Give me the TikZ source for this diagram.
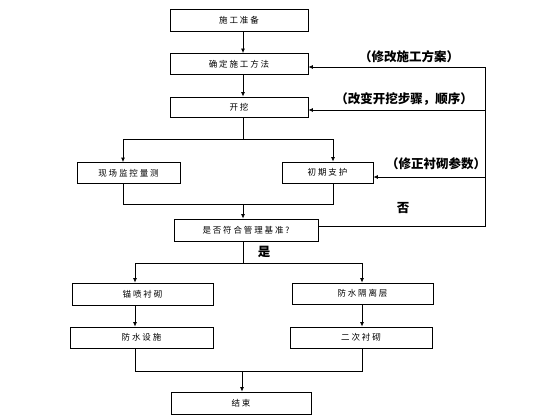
\documentclass[tikz,border=0pt]{standalone}
\usepackage{fontspec}
\setmainfont{Noto Sans CJK SC}
\newfontfamily\boxfont[LetterSpace=22]{Noto Sans CJK SC}
\usetikzlibrary{arrows.meta, backgrounds}
\tikzset{stepbox/.style={draw, line width=0.8pt, minimum height=21pt, inner sep=0pt, font=\boxfont\fontsize{8.5}{10}\selectfont}}
\tikzset{note/.style={font=\fontsize{12.5}{14}\selectfont\bfseries}}
\tikzset{flow/.style={-{Latex[length=4.5pt, width=4pt]}, line width=0.8pt}}
\tikzset{line/.style={line width=0.8pt}}

\begin{document}
\begin{tikzpicture}[x=1pt, y=-1pt]
    \useasboundingbox[fill=white] (0,0) rectangle (560,420);

    \node[stepbox, minimum width=138pt, minimum height=22pt] (A) at (239, 20) {施工准备};
    \node[stepbox, minimum width=138pt] (B) at (239, 64) {确定施工方法};
    \node[stepbox, minimum width=138pt, minimum height=20pt] (C) at (239, 107) {开挖};
    \node[stepbox, minimum width=103pt] (D) at (128.5, 173) {现场监控量测};
    \node[stepbox, minimum width=91pt] (E) at (327.5, 172.5) {初期支护};
    \node[stepbox, minimum width=144pt, minimum height=22pt] (F) at (246, 230) {是否符合管理基准?};
    \node[stepbox, minimum width=141pt, minimum height=22pt] (G) at (142.5, 294) {锚喷衬砌};
    \node[stepbox, minimum width=141pt] (H) at (362.5, 293.5) {防水隔离层};
    \node[stepbox, minimum width=143pt] (I) at (141.5, 337.5) {防水设施};
    \node[stepbox, minimum width=142pt] (K) at (361, 337.5) {二次衬砌};
    \node[stepbox, minimum width=140pt, minimum height=22pt] (End) at (241, 403) {结束};

    \coordinate (S) at (243, 0);
    \coordinate (J1) at (243, 139);
    \coordinate (L1) at (123, 139);
    \coordinate (R1) at (333, 139);
    \coordinate (J2) at (243, 204);
    \coordinate (J3) at (243, 263);
    \coordinate (L2) at (135, 263);
    \coordinate (R2) at (362, 263);
    \coordinate (J4) at (242, 371);
    \coordinate (FB) at (485, 226);
    \coordinate (T1) at (485, 67);
    \coordinate (T2) at (485, 110);
    \coordinate (T3) at (485, 177);

    % main line
    \draw[flow] (A.south -| S) -- (B.north -| S);
    \draw[flow] (B.south -| S) -- (C.north -| S);
    \draw[line] (C.south -| S) -- (J1);
    \draw[line] (L1) -- (R1);
    \draw[flow] (L1) -- (L1 |- D.north);
    \draw[flow] (R1) -- (R1 |- E.north);
    \draw[line] (L1 |- D.south) -- (L1 |- J2) -- (R1 |- J2) -- (R1 |- E.south);
    \draw[flow] (J2) -- (J2 |- F.north);

    % feedback
    \draw[line] (F.east |- FB) -- (FB) -- (T1);
    \draw[flow] (T1) -- (B.east |- T1);
    \draw[flow] (T2) -- (C.east |- T2);
    \draw[flow] (T3) -- (E.east |- T3);

    % second half
    \draw[line] (F.south -| S) -- (J3);
    \draw[line] (L2) -- (R2);
    \draw[flow] (L2) -- (L2 |- G.north);
    \draw[flow] (R2) -- (R2 |- H.north);
    \draw[flow] (L2 |- G.south) -- (L2 |- I.north);
    \draw[flow] (R2 |- H.south) -- (R2 |- K.north);
    \draw[line] (L2 |- I.south) -- (L2 |- J4) -- (R2 |- J4) -- (R2 |- K.south);
    \draw[flow] (J4) -- (J4 |- End.north);

    \node[note] (n1) at (409, 57) {（修改施工方案）};
    \node[note] (n2) at (404, 99) {（改变开挖步骤，顺序）};
    \node[note] (n3) at (436, 164) {（修正衬砌参数）};
    \node[note] (no) at (403, 208) {否};
    \node[note] (yes) at (264, 252) {是};
\end{tikzpicture}
\end{document}
